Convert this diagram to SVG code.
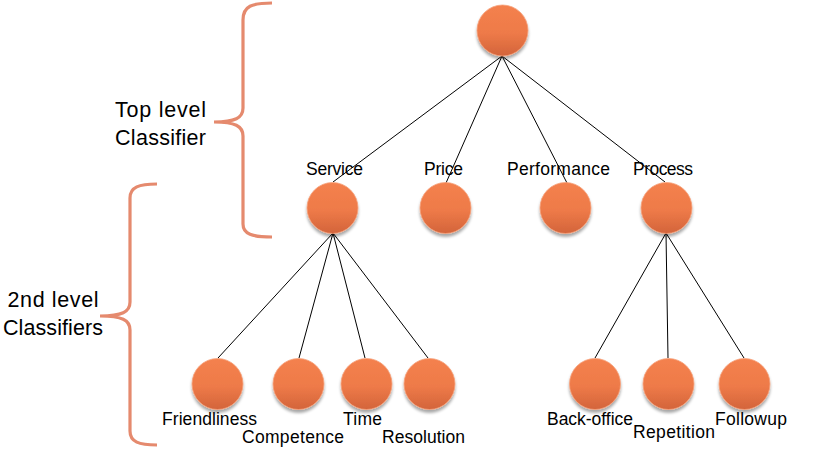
<svg xmlns="http://www.w3.org/2000/svg" width="820" height="476" viewBox="0 0 820 476">
<defs>
<linearGradient id="g" x1="0" y1="0" x2="0" y2="1">
<stop offset="0" stop-color="#F4814E"/>
<stop offset="0.55" stop-color="#EE7A48"/>
<stop offset="1" stop-color="#D3643B"/>
</linearGradient>
<filter id="sh" x="-30%" y="-30%" width="160%" height="170%">
<feGaussianBlur in="SourceAlpha" stdDeviation="1.6"/>
<feOffset dy="2.5" result="b"/>
<feComponentTransfer><feFuncA type="linear" slope="0.35"/></feComponentTransfer>
<feMerge><feMergeNode/><feMergeNode in="SourceGraphic"/></feMerge>
</filter>
</defs>
<style>
.n{fill:url(#g);stroke:#F6A27C;stroke-width:0.8;filter:url(#sh)}
.e{stroke:#000;stroke-width:1;fill:none}
.br{stroke:#E58A6E;stroke-width:3.2;fill:none}
.t{font-family:"Liberation Sans",Arial,sans-serif;font-size:17.5px;fill:#000;text-anchor:middle}
.s{font-family:"Liberation Sans",Arial,sans-serif;font-size:21.5px;fill:#000;text-anchor:middle}
</style>
<g id="brackets">
<path class="br" d="M272,3 C252,3 243,6 243,20 L243,108 C243,118 235,122 214,122 C235,122 243,126 243,136 L243,224 C243,234 252,237 272,237"/>
<path class="br" d="M157,184 C139,184 130,187 130,198 L130,302 C130,312 122,316 100,316 C122,316 130,320 130,330 L130,431 C130,442 139,445 157,445"/>
</g>
<g id="connectors">
<line class="e" x1="502" y1="56" x2="333" y2="182"/>
<line class="e" x1="502" y1="56" x2="446" y2="183"/>
<line class="e" x1="502" y1="56" x2="567" y2="183"/>
<line class="e" x1="502" y1="56" x2="665" y2="182"/>
<line class="e" x1="333" y1="233" x2="218" y2="358"/>
<line class="e" x1="333" y1="233" x2="299" y2="358"/>
<line class="e" x1="333" y1="233" x2="365" y2="358"/>
<line class="e" x1="333" y1="233" x2="428" y2="358"/>
<line class="e" x1="666" y1="233" x2="595" y2="358"/>
<line class="e" x1="666" y1="233" x2="668" y2="358"/>
<line class="e" x1="666" y1="233" x2="744" y2="358"/>
</g>
<g id="root"><circle class="n" cx="502.5" cy="30.5" r="25.5"/></g>
<g id="service"><circle class="n" cx="332.5" cy="208" r="25.5"/><text class="t" x="334.5" y="175" textLength="57">Service</text></g>
<g id="price"><circle class="n" cx="445.5" cy="208" r="25.5"/><text class="t" x="443.5" y="175" textLength="39">Price</text></g>
<g id="performance"><circle class="n" cx="565.5" cy="208" r="25.5"/><text class="t" x="558.5" y="175" textLength="103">Performance</text></g>
<g id="process"><circle class="n" cx="666.5" cy="208" r="25.5"/><text class="t" x="663" y="175" textLength="60">Process</text></g>
<g id="friendliness"><circle class="n" cx="217.5" cy="384" r="25.5"/><text class="t" x="209.5" y="425" textLength="95">Friendliness</text></g>
<g id="competence"><circle class="n" cx="298.5" cy="384" r="25.5"/><text class="t" x="293" y="443" textLength="102">Competence</text></g>
<g id="time"><circle class="n" cx="366.5" cy="384" r="25.5"/><text class="t" x="362.5" y="425" textLength="39">Time</text></g>
<g id="resolution"><circle class="n" cx="429.5" cy="384" r="25.5"/><text class="t" x="423.5" y="443" textLength="83">Resolution</text></g>
<g id="backoffice"><circle class="n" cx="595" cy="384" r="25.5"/><text class="t" x="590" y="425" textLength="86">Back-office</text></g>
<g id="repetition"><circle class="n" cx="668.5" cy="384" r="25.5"/><text class="t" x="674" y="438" textLength="82">Repetition</text></g>
<g id="followup"><circle class="n" cx="744.5" cy="384" r="25.5"/><text class="t" x="751" y="425" textLength="72">Followup</text></g>
<g id="labels">
<text class="s" x="160.5" y="117" textLength="91">Top level</text>
<text class="s" x="160.5" y="145" textLength="91">Classifier</text>
<text class="s" x="53" y="307" textLength="91">2nd level</text>
<text class="s" x="53" y="335" textLength="100">Classifiers</text>
</g>
</svg>
